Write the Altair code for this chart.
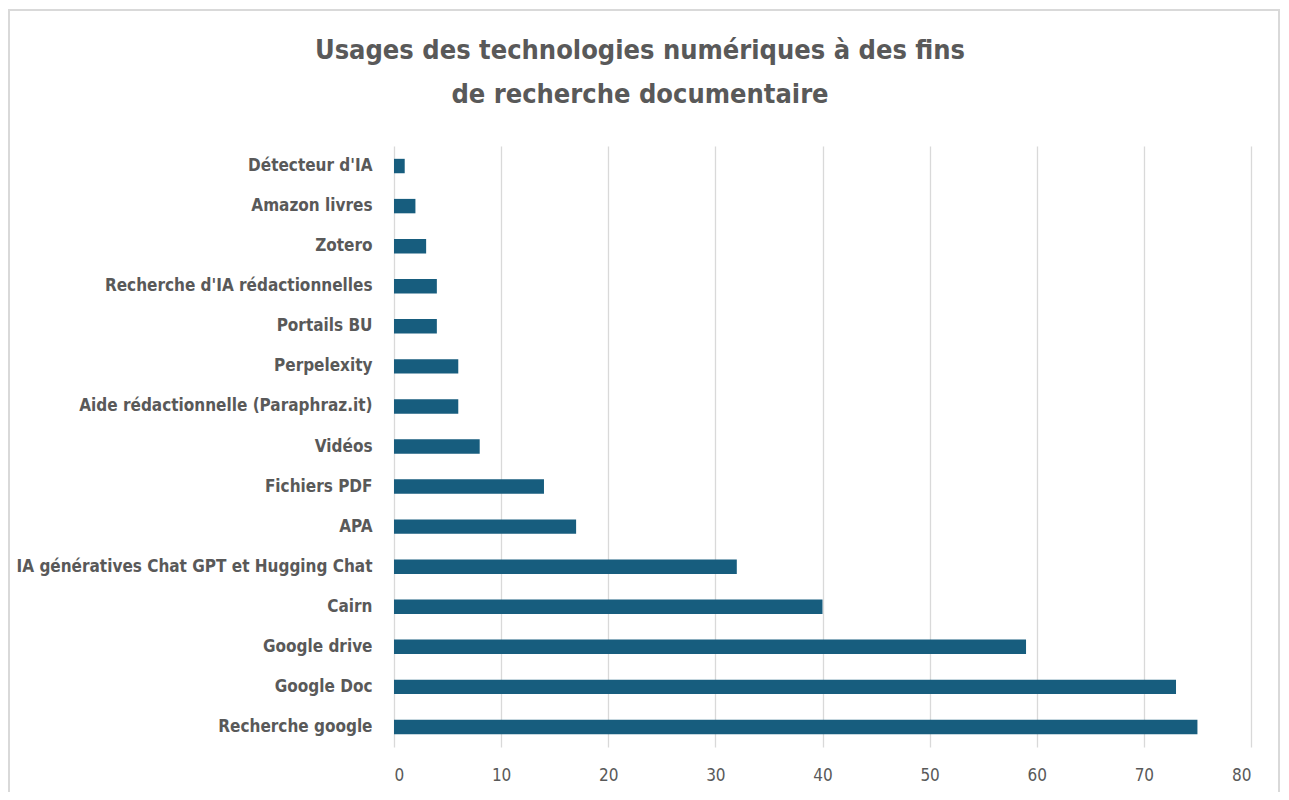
import altair as alt
import pandas as pd

categories = [
    "Détecteur d'IA",
    "Amazon livres",
    "Zotero",
    "Recherche d'IA rédactionnelles",
    "Portails BU",
    "Perpelexity",
    "Aide rédactionnelle (Paraphraz.it)",
    "Vidéos",
    "Fichiers PDF",
    "APA",
    "IA génératives Chat GPT et Hugging Chat",
    "Cairn",
    "Google drive",
    "Google Doc",
    "Recherche google",
]
values = [1, 2, 3, 4, 4, 6, 6, 8, 14, 17, 32, 40, 59, 73, 75]
x_ticks = [0, 10, 20, 30, 40, 50, 60, 70, 80]
title_lines = ["Usages des technologies numériques à des fins", "de recherche documentaire"]

df = pd.DataFrame({"cat": categories, "val": values})

FONT = "Liberation Sans Narrow, DejaVu Sans Condensed, Roboto, sans-serif"
GREY = "#595959"

bars = alt.Chart(df).mark_bar(color="#175d7e").encode(
    x=alt.X(
        "val:Q",
        scale=alt.Scale(domain=[0, 80], nice=False),
        axis=alt.Axis(
            values=x_ticks,
            title=None,
            domain=False,
            ticks=False,
            grid=True,
            gridColor="#d9d9d9",
            gridWidth=1.3,
            labelFont=FONT,
            labelFontSize=17,
            labelColor=GREY,
            labelPadding=20,
        ),
    ),
    y=alt.Y(
        "cat:N",
        sort=categories,
        scale=alt.Scale(paddingInner=0.64, paddingOuter=0.32),
        axis=alt.Axis(
            title=None,
            domain=False,
            ticks=False,
            labelFont=FONT,
            labelFontSize=17,
            labelFontWeight="bold",
            labelColor=GREY,
            labelPadding=22,
            labelLimit=600,
        ),
    ),
)

frame = alt.Chart(pd.DataFrame({"a": [0]})).mark_rect(
    fill=None, stroke="#d9d9d9", strokeWidth=2
).encode(
    x=alt.value(-385),
    x2=alt.value(885),
    y=alt.value(-136),
    y2=alt.value(680),
)

title = alt.Chart(pd.DataFrame({"t": [title_lines]})).mark_text(
    font=FONT,
    fontSize=27,
    fontWeight="bold",
    color=GREY,
    align="center",
    baseline="alphabetic",
    lineHeight=44,
).encode(
    text="t",
    x=alt.value(246),
    y=alt.value(-87),
)

chart = alt.layer(frame, bars, title).properties(
    width=857,
    height=601,
    padding={"left": 386, "top": 138, "right": 30, "bottom": 45},
    autosize=alt.AutoSizeParams(type="none"),
).configure_view(stroke=None)

chart.save("out.html", embed_options={"renderer": "svg", "actions": False})
